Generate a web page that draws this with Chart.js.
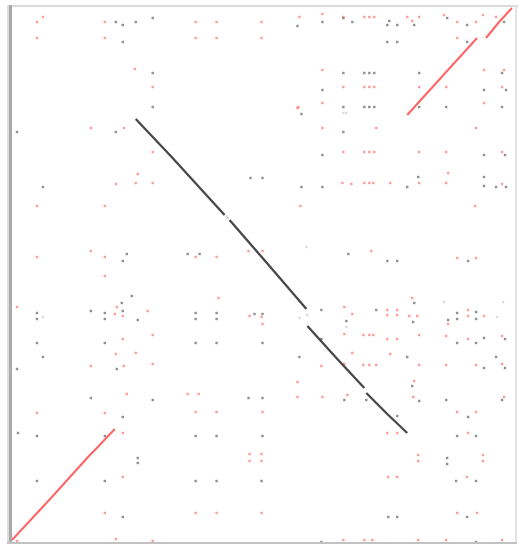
<!DOCTYPE html>
<html>
<head>
<meta charset="utf-8">
<script src="https://cdn.jsdelivr.net/npm/chart.js@4/dist/chart.umd.min.js"></script>
<style>
  html, body { margin: 0; padding: 0; background: #fff; }
  canvas { display: block; }
</style>
</head>
<body>
<canvas id="dotplot" width="519" height="546"></canvas>
<script>
// dot plot: query position (x) vs subject position (y), same units on both
const qMax = 504;
const sMax = 535;

// long alignment blocks (null breaks a block)
const fwdBlockA = [[0, 2], [40, 45], [78, 87], [85, 94], [103, 113]];
const fwdBlockB = [[396, 427], [435, 470], [466, 504], null, [475, 504], [488, 520], [501, 534]];
const revBlock = [[124, 423], [160, 385], [213, 327], null, [218, 322], [258, 276], [295, 233], null,
                  [296, 216], [325, 184], [353, 154], null, [355, 149], [376, 128], [396, 109]];

// short forward hits
const fwdHits = [
  [25,520],[31,525],[25,504],[93,520],[93,504],[123,473],[141,455],[79,414],[112,414],[141,390],[126,368],
  [184,520],[205,520],[250,520],[184,504],[205,504],[250,504],[288,525],[311,528],[311,472],[332,455],
  [311,439],[286,434],[332,525],[353,525],[358,525],[363,525],[396,525],[401,521],[408,525],[433,527],
  [446,520],[465,520],[472,527],[485,525],[446,504],[473,472],[493,472],[353,455],[358,455],[363,455],
  [408,455],[435,455],[491,455],[473,439],[365,414],[465,414],[311,414],[332,390],[353,390],[358,390],
  [363,390],[408,390],[435,390],[491,390],[437,369],[331,359],[340,358],[353,359],[358,359],[362,359],
  [379,359],[408,359],[289,336],[360,291],[287,435],[124,359],[141,359],[184,285],[205,285],[237,291],
  [251,291],[207,244],[104,358],[25,336],[93,336],[79,291],[25,285],[93,285],[93,266],[5,235],[105,235],
  [111,226],[103,228],[111,203],[104,188],[79,176],[112,176],[115,148],[136,231],[238,226],[250,225],
  [251,218],[141,207],[124,189],[141,178],[176,148],[187,148],[184,130],[205,130],[251,130],[111,109],
  [25,129],[93,129],[111,65],[93,29],[5,1],[104,3],[141,1],[238,88],[250,88],[238,81],[250,81],
  [184,29],[205,29],[250,29],[332,2],[407,87],[407,81],[472,87],[472,81],[377,65],[386,65],[456,65],
  [446,29],[466,29],[353,2],[361,2],[407,2],[435,2],[491,2],[401,244],[333,235],[341,228],[376,232],
  [376,227],[386,232],[386,227],[398,226],[406,226],[333,208],[352,207],[358,207],[362,207],[376,203],
  [386,203],[408,207],[341,189],[379,188],[310,176],[333,178],[352,177],[358,177],[365,177],[408,177],
  [286,160],[403,161],[286,145],[311,145],[336,147],[402,145],[376,109],[386,109],[435,359],[491,358],
  [464,336],[446,284],[465,284],[457,232],[457,226],[473,226],[437,218],[435,206],[457,203],[491,206],
  [435,177],[465,177],[491,178],[493,145],[446,130],[465,130],[457,109]
];

// short reverse hits
const revHits = [
  [104,520],[111,517],[124,520],[141,524],[111,500],[141,469],[141,435],[5,410],[104,410],
  [286,516],[311,520],[332,524],[332,469],[311,452],[332,435],[341,520],[378,521],[376,517],[386,517],
  [403,517],[436,524],[456,517],[493,520],[376,500],[386,500],[456,500],[353,469],[358,469],[363,469],
  [408,469],[491,469],[473,452],[495,452],[353,435],[358,435],[363,435],[408,435],[435,435],[491,435],
  [332,410],[473,387],[494,387],[407,365],[473,365],[290,428],[311,387],[396,355],[290,355],[311,355],
  [337,288],[376,281],[386,281],[239,364],[251,364],[115,288],[111,281],[176,288],[188,288],[120,246],
  [31,355],[25,229],[25,223],[79,231],[93,229],[93,223],[111,231],[25,199],[93,199],[31,185],[5,173],
  [105,173],[79,144],[110,239],[126,222],[184,229],[184,223],[205,229],[205,223],[243,228],[251,228],
  [184,199],[205,199],[251,199],[237,144],[251,144],[141,142],[111,125],[184,106],[205,106],[251,106],
  [6,109],[25,106],[93,106],[126,84],[126,79],[25,61],[93,61],[111,25],[184,61],[205,61],[250,61],
  [310,0],[436,84],[436,78],[445,61],[465,61],[377,25],[386,25],[456,25],[465,0],[403,239],[310,232],
  [365,232],[402,220],[335,221],[310,203],[288,185],[396,185],[401,156],[333,142],[355,142],[408,141],
  [386,126],[473,356],[485,355],[495,355],[457,281],[446,229],[446,223],[465,230],[465,223],[437,222],
  [446,199],[465,199],[473,204],[494,203],[485,185],[473,174],[494,174],[435,142],[491,142],[457,125],
  [446,106],[465,106]
];

// weak hits
const weakHits = [[31,225],[332,429],[335,429],[295,295],[433,240],[492,240],[486,225],[335,215],[288,224],[296,227],[215,325],[216,324]];

const toPts = arr => arr.map(p => p ? {x: p[0], y: p[1]} : {x: null, y: null});

const RED = 'rgba(255, 70, 70, 0.85)';
const RED_DOT = 'rgba(255, 90, 90, 0.6)';
const GREY_DOT = 'rgba(70, 70, 70, 0.6)';

// grey frame round the plot
const frame = {
    id: 'frame',
    afterDraw(chart) {
        const ctx = chart.ctx;
        const a = chart.chartArea;
        ctx.save();
        ctx.fillStyle = '#dcdcdc';
        ctx.fillRect(a.left - 5, a.top - 2, a.right - a.left + 8, 2);
        ctx.fillStyle = '#e2e2e2';
        ctx.fillRect(a.right, a.top - 2, 2, a.bottom - a.top + 4);
        ctx.fillStyle = '#dddddd';
        ctx.fillRect(a.left - 5, a.top - 2, 2, a.bottom - a.top + 4);
        ctx.fillStyle = '#a9a9a9';
        ctx.fillRect(a.left - 3, a.top - 2, 3, a.bottom - a.top + 4);
        ctx.fillStyle = '#c2c2c2';
        ctx.fillRect(a.left - 5, a.bottom, a.right - a.left + 7, 2);
        ctx.restore();
    }
};

const lineSet = (data, color, width) => ({
    data: toPts(data),
    showLine: true,
    spanGaps: false,
    borderColor: color,
    borderWidth: width,
    pointRadius: 0,
    order: 0
});

const dotSet = (data, color, r) => ({
    data: toPts(data),
    showLine: false,
    backgroundColor: color,
    borderWidth: 0,
    pointRadius: r,
    pointStyle: 'rect',
    order: 1
});

new Chart(document.getElementById('dotplot'), {
    type: 'scatter',
    data: {
        datasets: [
            lineSet(revBlock, 'rgba(40, 40, 40, 0.85)', 2.3),
            lineSet(fwdBlockA, RED, 2),
            lineSet(fwdBlockB, RED, 2),
            dotSet(fwdHits, RED_DOT, 1.7),
            dotSet(revHits, GREY_DOT, 1.7),
            dotSet(weakHits, 'rgba(120, 120, 120, 0.25)', 1.7)
        ]
    },
    options: {
        responsive: false,
        animation: false,
        layout: { padding: { left: 12, right: 3, top: 7, bottom: 4 } },
        scales: {
            x: { type: 'linear', min: 0, max: qMax, display: false },
            y: { type: 'linear', min: 0, max: sMax, display: false }
        },
        plugins: {
            legend: { display: false },
            tooltip: { enabled: false }
        }
    },
    plugins: [frame]
});
</script>
</body>
</html>
